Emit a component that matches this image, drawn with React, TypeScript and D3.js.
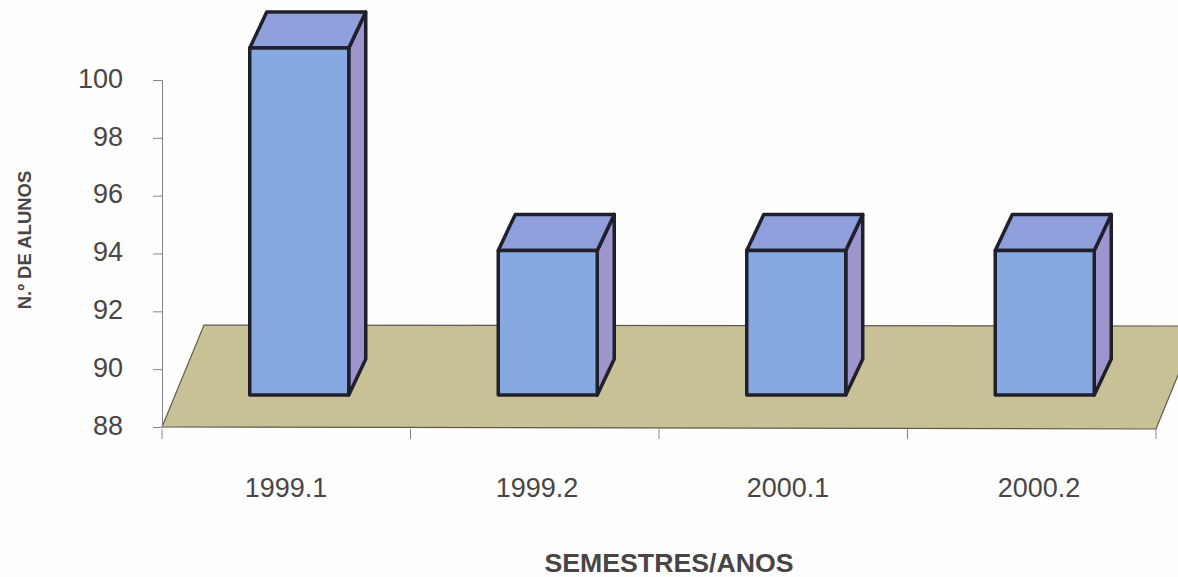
import React, { useEffect, useRef } from "react";
import * as d3 from "d3";

const semesters = ["1999.1", "1999.2", "2000.1", "2000.2"];
const alunos = [100, 93, 93, 93];
const yTicks = [88, 90, 92, 94, 96, 98, 100];
const xTitle = "SEMESTRES/ANOS";
const yTitle = "N.º DE ALUNOS";

export default function App() {
  const ref = useRef<SVGSVGElement>(null);

  useEffect(() => {
    const svg = d3.select(ref.current);
    svg.selectAll("*").remove();

    const width = 1178;
    const height = 577;
    const textColor = "#4a4545";
    // 3d look: how far the back of the floor / of a bar is shifted
    const floorDepth = { x: 42, y: -102 };
    const barDepth = { x: 17, y: -36 };
    const barShift = { x: 13, y: -32 };

    const x = d3.scaleBand().domain(semesters).range([162, 1156]);
    const y = d3.scaleLinear().domain([88, 100]).range([427, 80]);
    // the labels are spaced a bit wider than the ticks in the original
    const xLabel = d3.scalePoint().domain(semesters).range([286, 1039]);

    const floorLeft = x.range()[0];
    const floorRight = x.range()[1];
    const floorY = y(88);

    svg.append("rect").attr("width", width).attr("height", height).attr("fill", "#fefefe");

    // floor
    svg
      .append("path")
      .attr(
        "d",
        d3.line()([
          [floorLeft, floorY],
          [floorLeft + floorDepth.x, floorY + floorDepth.y],
          [floorRight + floorDepth.x, floorY + floorDepth.y + 1],
          [floorRight, floorY + 2]
        ]) + "Z"
      )
      .attr("fill", "#c9c196")
      .attr("stroke", "#5e5a52")
      .attr("stroke-width", 1.2);

    // axes
    const yAxis = d3.axisLeft(y).tickValues(yTicks).tickSize(9).tickPadding(30);
    const gy = svg.append("g").attr("transform", `translate(${floorLeft},0)`).call(yAxis);
    gy.selectAll("path,line").attr("stroke", "#85858f");
    gy.selectAll("text")
      .attr("font-family", "Liberation Sans")
      .attr("font-size", 27)
      .attr("dy", "0.27em")
      .attr("fill", textColor);

    const gx = svg.append("g").attr("transform", `translate(0,${floorY + 2})`);
    gx.selectAll("line")
      .data([...semesters.map(d => x(d)!), floorRight])
      .join("line")
      .attr("x1", d => d)
      .attr("x2", d => d)
      .attr("y1", 0)
      .attr("y2", 10)
      .attr("stroke", "#85858f");

    svg
      .append("g")
      .selectAll("text")
      .data(semesters)
      .join("text")
      .attr("x", d => xLabel(d)!)
      .attr("y", 497)
      .attr("text-anchor", "middle")
      .attr("font-family", "Liberation Sans")
      .attr("font-size", 27)
      .attr("fill", textColor)
      .text(d => d);

    // bars
    const barW = 99;
    const bars = svg
      .append("g")
      .attr("stroke", "#20202c")
      .attr("stroke-width", 3.5)
      .attr("stroke-linejoin", "round");

    semesters.forEach((s, i) => {
      const x0 = x(s)! + (x.bandwidth() - barW) / 2 + barShift.x;
      const x1 = x0 + barW;
      const yTop = y(alunos[i]) + barShift.y;
      const yBase = y(88) + barShift.y;
      const dx = barDepth.x;
      const dy = barDepth.y;
      const g = bars.append("g");
      g.append("path")
        .attr("d", `M${x1},${yTop}L${x1 + dx},${yTop + dy}L${x1 + dx},${yBase + dy}L${x1},${yBase}Z`)
        .attr("fill", "#9c96cc");
      g.append("path")
        .attr("d", `M${x0},${yTop}L${x0 + dx},${yTop + dy}L${x1 + dx},${yTop + dy}L${x1},${yTop}Z`)
        .attr("fill", "#8f9fdc");
      g.append("rect")
        .attr("x", x0)
        .attr("y", yTop)
        .attr("width", barW)
        .attr("height", yBase - yTop)
        .attr("fill", "#86a9e2");
    });

    // titles
    svg
      .append("text")
      .attr("x", 669)
      .attr("y", 572)
      .attr("text-anchor", "middle")
      .attr("font-family", "Liberation Sans")
      .attr("font-size", 26.7)
      .attr("font-weight", "bold")
      .attr("fill", textColor)
      .text(xTitle);

    svg
      .append("text")
      .attr("transform", "translate(31,240) rotate(-90)")
      .attr("text-anchor", "middle")
      .attr("font-family", "Liberation Sans")
      .attr("font-size", 18.5)
      .attr("font-weight", "bold")
      .attr("fill", textColor)
      .text(yTitle);
  }, []);

  return (
    <svg
      ref={ref}
      width={1178}
      height={577}
      style={{ position: "absolute", left: 0, top: 0 }}
    />
  );
}
